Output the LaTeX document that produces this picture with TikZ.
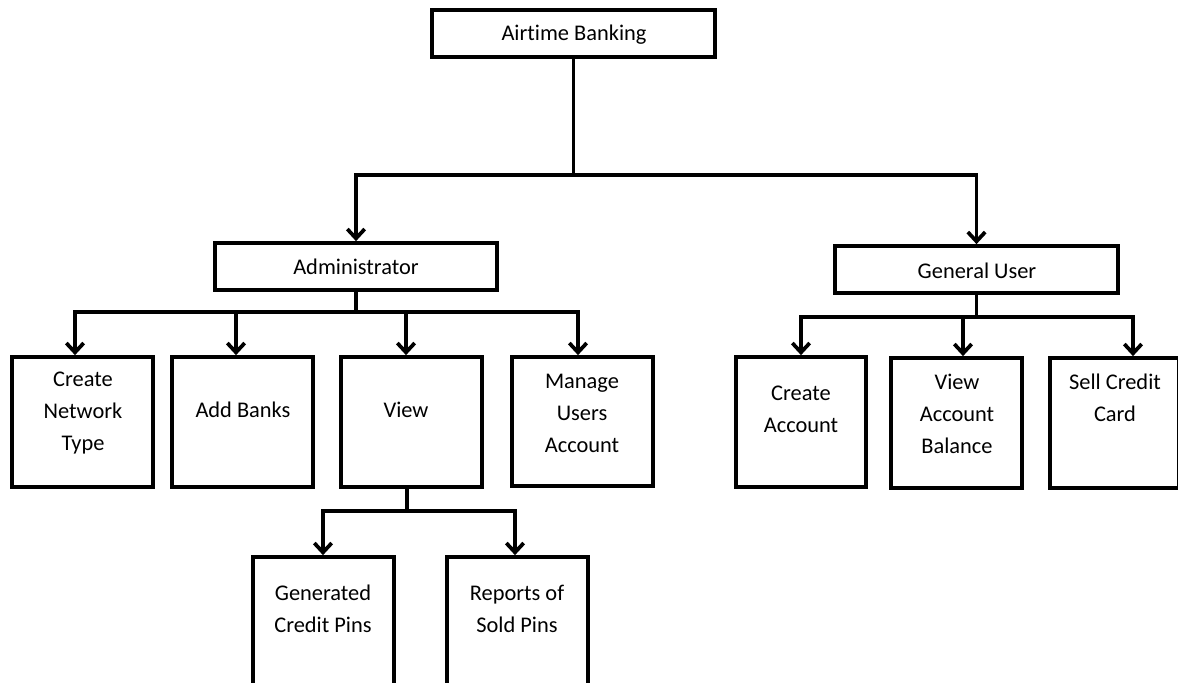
\documentclass[tikz,border=0pt]{standalone}
\usepackage{fontspec}
\setmainfont{Carlito}[Ligatures=NoCommon]
\usetikzlibrary{fit,arrows.meta}
\tikzset{
  box/.style={draw=black, line width=2.8pt, inner sep=0pt, fill=none},
  txt/.style={align=center, font=\fontsize{16.8pt}{24pt}\selectfont, inner sep=0pt},
  conn/.style={draw=black, line width=2.8pt, -{Straight Barb[length=7pt,width=13pt]}}
}
\begin{document}
\begin{tikzpicture}[x=0.75pt,y=-0.75pt]
\useasboundingbox (0,0) rectangle (1178,682);
% boxes
\node[box, fit={(432,10) (715,57)}] (top) {};
\node[box, fit={(215,243) (497,290)}] (admin) {};
\node[box, fit={(835,246) (1118,293)}] (gu) {};
\node[box, fit={(12,357) (153,487)}] (cnt) {};
\node[box, fit={(172,357) (313,487)}] (ab) {};
\node[box, fit={(341,357) (482,487)}] (view) {};
\node[box, fit={(512,357) (653,486)}] (mua) {};
\node[box, fit={(253,557) (394,740)}] (gcp) {};
\node[box, fit={(447,557) (588,740)}] (rsp) {};
\node[box, fit={(736,357) (866,487)}] (ca) {};
\node[box, fit={(891,358) (1022,488)}] (vab) {};
\node[box, fit={(1050,358) (1179,488)}] (scc) {};
% texts
\node[txt] (topT) at (574,35) {Airtime Banking};
\node[txt] (adminT) at (356,267) {Administrator};
\node[txt] (guT) at (977,271) {General User};
\node[txt] (cntT) at (83,413.5) {Create\\Network\\Type};
\node[txt] (abT) at (243,410) {Add Banks};
\node[txt] (viewT) at (406,410) {View};
\node[txt] (muaT) at (582,413) {Manage\\Users\\Account};
\node[txt] (gcpT) at (323,609) {Generated\\Credit Pins};
\node[txt] (rspT) at (517,609) {Reports of\\Sold Pins};
\node[txt] (caT) at (801,409) {Create\\Account};
\node[txt] (vabT) at (957,414) {View\\Account\\Balance};
\node[txt] (sccT) at (1115,398) {Sell Credit\\Card};
% connectors
\draw[conn] (top.south) -- (top.south |- 0,175) -| (admin.north);
\draw[conn] (top.south) -- (top.south |- 0,175) -| (gu.north);
\draw[conn] (admin.south) -- (admin.south |- 0,312) -| (cnt.north -| 75,0);
\draw[conn] (admin.south) -- (admin.south |- 0,312) -| (ab.north -| 236,0);
\draw[conn] (admin.south) -- (admin.south |- 0,312) -| (view.north -| 406,0);
\draw[conn] (admin.south) -- (admin.south |- 0,312) -| (mua.north -| 578,0);
\draw[conn] (view.south -| 407,0) -- (0,511 -| 407,0) -| (gcp.north -| 323,0);
\draw[conn] (view.south -| 407,0) -- (0,511 -| 407,0) -| (rsp.north -| 515,0);
\draw[conn] (gu.south) -- (gu.south |- 0,317) -| (ca.north -| 801,0);
\draw[conn] (gu.south) -- (gu.south |- 0,317) -| (vab.north -| 963,0);
\draw[conn] (gu.south) -- (gu.south |- 0,317) -| (scc.north -| 1133,0);
\end{tikzpicture}
\end{document}
